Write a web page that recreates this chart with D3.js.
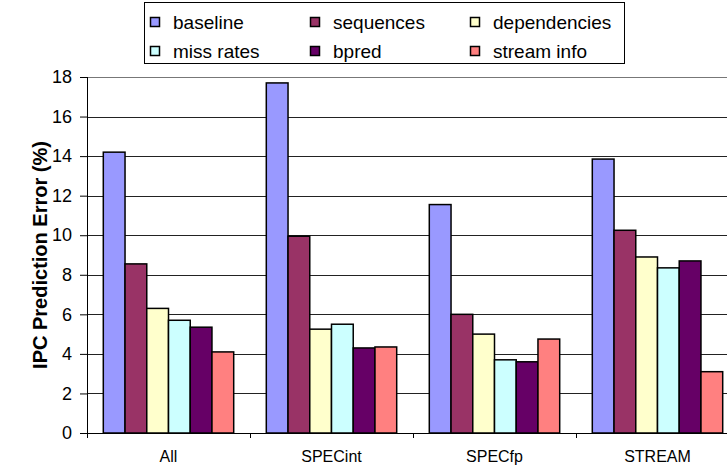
<!DOCTYPE html>
<html>
<head>
<meta charset="utf-8">
<script src="https://d3js.org/d3.v7.min.js"></script>
<style>
    body { margin: 0; background: #fff; }
    text { font-family: Arial, "Liberation Sans", sans-serif; }
</style>
</head>
<body>
<div id="chart"></div>
<script>
var categories = ["All", "SPECint", "SPECfp", "STREAM"];
var seriesNames = ["baseline", "sequences", "dependencies", "miss rates", "bpred", "stream info"];
var seriesColors = ["#9999FF", "#993366", "#FFFFCC", "#CCFFFF", "#660066", "#FF8080"];

var baseline = [14.2, 17.7, 11.55, 13.85];
var sequences = [8.55, 9.95, 6.0, 10.25];
var dependencies = [6.3, 5.25, 5.0, 8.9];
var missRates = [5.7, 5.5, 3.7, 8.35];
var bpred = [5.35, 4.3, 3.6, 8.7];
var streamInfo = [4.1, 4.35, 4.75, 3.1];

var yTicks = [0, 2, 4, 6, 8, 10, 12, 14, 16, 18];

var seriesValues = [baseline, sequences, dependencies, missRates, bpred, streamInfo];

var width = 727,
    height = 467,
    margin = { top: 77, left: 87, bottom: 34 },
    plotBottom = height - margin.bottom;

var svg = d3
    .select("#chart")
    .append("svg")
    .attr("width", width)
    .attr("height", height);

// each category is 163px wide, the last one runs past the right edge
var x0 = d3
    .scaleBand()
    .domain(categories)
    .range([margin.left, margin.left + 163 * categories.length]);

var x1 = d3
    .scaleBand()
    .domain(seriesNames)
    .range([0, x0.bandwidth()])
    .paddingInner(0)
    .paddingOuter(0.75);

var y = d3.scaleLinear().domain([0, 18]).range([plotBottom, margin.top]);

// gridlines
svg.append("g")
    .selectAll("line")
    .data(yTicks.slice(1))
    .enter()
    .append("line")
    .attr("x1", margin.left)
    .attr("x2", width)
    .attr("y1", function (d) { return Math.round(y(d)) + 0.5; })
    .attr("y2", function (d) { return Math.round(y(d)) + 0.5; })
    .style("stroke", function (d) { return d === 18 ? "#777" : "#222"; })
    .style("stroke-width", 1);

// bars
var groups = svg
    .append("g")
    .selectAll("g")
    .data(categories)
    .enter()
    .append("g")
    .attr("transform", function (d) { return "translate(" + x0(d) + ",0)"; });

groups
    .selectAll("rect")
    .data(function (d, i) {
        return seriesNames.map(function (s, j) {
            return { name: s, value: seriesValues[j][i], color: seriesColors[j] };
        });
    })
    .enter()
    .append("rect")
    .attr("x", function (d) { return x1(d.name); })
    .attr("y", function (d) { return y(d.value); })
    .attr("width", x1.bandwidth())
    .attr("height", function (d) { return plotBottom - y(d.value); })
    .style("fill", function (d) { return d.color; })
    .style("stroke", "#000")
    .style("stroke-width", 1.5);

// y axis
var yAxis = svg
    .append("g")
    .attr("transform", "translate(" + margin.left + ",0)")
    .call(d3.axisLeft(y).tickValues(yTicks).tickSize(7).tickPadding(8).tickFormat(d3.format("d")));
yAxis.select(".domain").remove();
yAxis.selectAll("line").style("stroke", "#000");
yAxis.selectAll("text").style("font-size", "18px").style("fill", "#000");
svg.append("line")
    .attr("x1", margin.left + 0.5)
    .attr("x2", margin.left + 0.5)
    .attr("y1", margin.top)
    .attr("y2", plotBottom + 5)
    .style("stroke", "#000");

// x axis
svg.append("line")
    .attr("x1", margin.left)
    .attr("x2", width)
    .attr("y1", plotBottom + 0.5)
    .attr("y2", plotBottom + 0.5)
    .style("stroke", "#000");

svg.append("g")
    .selectAll("line")
    .data(categories.slice(1))
    .enter()
    .append("line")
    .attr("x1", function (d) { return Math.round(x0(d)) + 0.5; })
    .attr("x2", function (d) { return Math.round(x0(d)) + 0.5; })
    .attr("y1", plotBottom)
    .attr("y2", plotBottom + 5)
    .style("stroke", "#000");

svg.append("g")
    .selectAll("text")
    .data(categories)
    .enter()
    .append("text")
    .attr("x", function (d) { return x0(d) + x0.bandwidth() / 2; })
    .attr("y", plotBottom + 29)
    .attr("text-anchor", "middle")
    .style("font-size", "16px")
    .text(function (d) { return d; });

// y axis title
svg.append("text")
    .attr("transform", "translate(47," + (margin.top + plotBottom) / 2 + ") rotate(-90)")
    .attr("text-anchor", "middle")
    .style("font-size", "20px")
    .style("font-weight", "bold")
    .text("IPC Prediction Error (%)");

// legend
var legend = svg.append("g");
legend.append("rect")
    .attr("x", 144.5)
    .attr("y", 2.5)
    .attr("width", 480)
    .attr("height", 61)
    .style("fill", "#fff")
    .style("stroke", "#000");

var legendItems = legend
    .selectAll("g.item")
    .data(seriesNames)
    .enter()
    .append("g")
    .attr("class", "item")
    .attr("transform", function (d, i) {
        return "translate(" + (150 + (i % 3) * 160) + "," + (22 + Math.floor(i / 3) * 29) + ")";
    });

legendItems
    .append("rect")
    .attr("x", 0.5)
    .attr("y", -4.5)
    .attr("width", 9)
    .attr("height", 9)
    .style("fill", function (d, i) { return seriesColors[i]; })
    .style("stroke", "#000")
    .style("stroke-width", 1.5);

legendItems
    .append("text")
    .attr("x", 23)
    .attr("y", 7)
    .style("font-size", "19px")
    .text(function (d) { return d; });
</script>
</body>
</html>
